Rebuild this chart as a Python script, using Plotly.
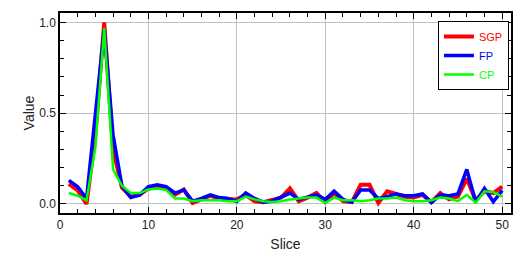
import plotly.graph_objects as go

# slice index and per-method values
slices = list(range(1, 51))
sgp = [0.11, 0.075, 0.00, 0.38, 1.00, 0.30, 0.09, 0.04, 0.05, 0.085,
       0.10, 0.09, 0.05, 0.08, 0.005, 0.025, 0.045, 0.03, 0.03, 0.025,
       0.05, 0.015, 0.01, 0.025, 0.035, 0.085, 0.015, 0.035, 0.06, 0.01,
       0.06, 0.015, 0.01, 0.105, 0.105, 0.005, 0.07, 0.055, 0.04, 0.035,
       0.05, 0.01, 0.06, 0.025, 0.04, 0.14, 0.02, 0.07, 0.06, 0.095]
fp = [0.13, 0.095, 0.03, 0.48, 0.96, 0.38, 0.10, 0.035, 0.05, 0.095,
      0.105, 0.095, 0.06, 0.077, 0.015, 0.03, 0.05, 0.035, 0.03, 0.013,
      0.06, 0.03, 0.01, 0.015, 0.035, 0.06, 0.025, 0.04, 0.05, 0.025,
      0.07, 0.025, 0.01, 0.077, 0.077, 0.03, 0.04, 0.055, 0.045, 0.045,
      0.055, 0.007, 0.05, 0.045, 0.055, 0.19, 0.012, 0.085, 0.012, 0.075]
cp = [0.06, 0.045, 0.02, 0.31, 0.97, 0.19, 0.10, 0.06, 0.06, 0.08,
      0.085, 0.077, 0.03, 0.03, 0.015, 0.02, 0.02, 0.02, 0.015, 0.015,
      0.04, 0.025, 0.015, 0.01, 0.015, 0.025, 0.03, 0.035, 0.035, 0.005,
      0.035, 0.02, 0.02, 0.015, 0.02, 0.03, 0.03, 0.035, 0.02, 0.015,
      0.015, 0.02, 0.035, 0.03, 0.015, 0.05, 0.007, 0.07, 0.065, 0.04]

series = [
    ("SGP", sgp, "#ff0000", 4),
    ("FP", fp, "#0000ff", 3.5),
    ("CP", cp, "#00ff00", 2.5),
]

fig = go.Figure()
for name, vals, color, width in series:
    fig.add_trace(go.Scatter(
        x=slices, y=vals, mode="lines",
        name=f'<span style="color:{color}">{name}</span>',
        line=dict(color=color, width=width),
    ))

axis_common = dict(
    showline=True, linecolor="black", linewidth=1.5, mirror="allticks",
    ticks="inside", ticklen=6, tickcolor="black", automargin=False,
    showgrid=True, gridcolor="#c0c0c0", gridwidth=1, zeroline=False,
    tickfont=dict(size=12, color="#222"),
)

# the page body adds an 8px offset, so the figure is 8px smaller each way
fig.update_layout(
    width=522, height=247,
    margin=dict(l=52, r=19, t=5, b=42),
    paper_bgcolor="white", plot_bgcolor="white",
    font=dict(family="Arial, Liberation Sans, sans-serif", size=12, color="#222"),
    showlegend=True,
    legend=dict(
        x=0.838, y=0.96, xanchor="left", yanchor="top",
        bgcolor="white", bordercolor="black", borderwidth=1,
        font=dict(size=11), itemwidth=30, tracegroupgap=0,
    ),
    xaxis=dict(
        range=[0, 51], dtick=10, title=dict(text="Slice", standoff=8),
        minor=dict(dtick=2, ticks="inside", ticklen=4, tickcolor="black", showgrid=False),
        **axis_common,
    ),
    yaxis=dict(
        range=[-0.05, 1.052], dtick=0.5, tickformat=".1f",
        title=dict(text="Value", standoff=1),
        minor=dict(dtick=0.1, ticks="inside", ticklen=4, tickcolor="black", showgrid=False),
        **axis_common,
    ),
)

fig.write_html("out.html")
